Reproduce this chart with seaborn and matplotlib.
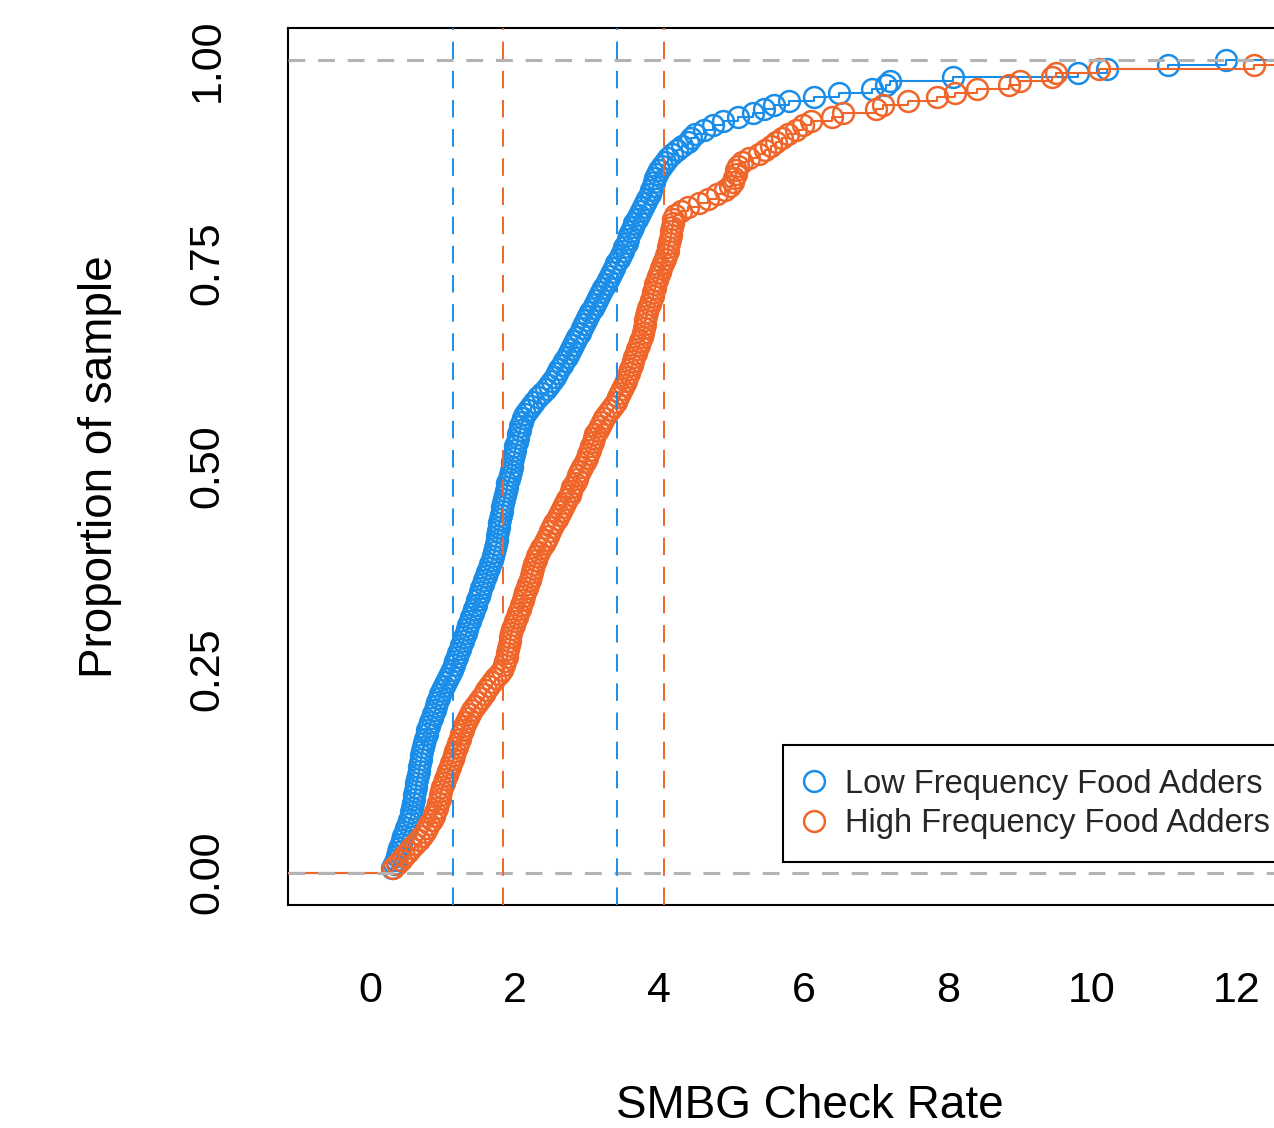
import numpy as np
import pandas as pd
import matplotlib
matplotlib.use("Agg")
import matplotlib.pyplot as plt
from matplotlib.lines import Line2D
import seaborn as sns

# SMBG check rates (sorted, 200 subjects per group)
low_rate = [
    0.30, 0.33, 0.35, 0.37, 0.38, 0.40, 0.42, 0.44, 0.46, 0.48,
    0.50, 0.52, 0.54, 0.56, 0.57, 0.58, 0.59, 0.60, 0.61, 0.62,
    0.63, 0.64, 0.65, 0.66, 0.67, 0.68, 0.69, 0.70, 0.70, 0.71,
    0.73, 0.75, 0.76, 0.78, 0.79, 0.81, 0.83, 0.85, 0.87, 0.89,
    0.91, 0.93, 0.95, 0.97, 0.99, 1.02, 1.05, 1.08, 1.10, 1.13,
    1.16, 1.18, 1.20, 1.22, 1.24, 1.26, 1.28, 1.30, 1.32, 1.34,
    1.36, 1.38, 1.40, 1.42, 1.44, 1.46, 1.48, 1.50, 1.52, 1.54,
    1.56, 1.58, 1.60, 1.62, 1.64, 1.66, 1.68, 1.70, 1.72, 1.73,
    1.74, 1.75, 1.76, 1.77, 1.78, 1.79, 1.80, 1.81, 1.82, 1.83,
    1.84, 1.85, 1.86, 1.88, 1.89, 1.90, 1.92, 1.93, 1.95, 1.96,
    1.97, 1.98, 1.99, 2.00, 2.01, 2.03, 2.04, 2.05, 2.07, 2.08,
    2.10, 2.12, 2.15, 2.18, 2.22, 2.27, 2.33, 2.38, 2.44, 2.48,
    2.52, 2.56, 2.59, 2.62, 2.66, 2.69, 2.72, 2.75, 2.78, 2.81,
    2.84, 2.87, 2.90, 2.93, 2.96, 2.99, 3.02, 3.05, 3.08, 3.11,
    3.14, 3.17, 3.20, 3.23, 3.26, 3.29, 3.32, 3.35, 3.38, 3.41,
    3.44, 3.47, 3.50, 3.52, 3.55, 3.57, 3.59, 3.61, 3.64, 3.66,
    3.69, 3.72, 3.75, 3.78, 3.81, 3.84, 3.87, 3.89, 3.91, 3.93,
    3.95, 3.97, 4.00, 4.04, 4.08, 4.13, 4.18, 4.25, 4.32, 4.40,
    4.45, 4.50, 4.62, 4.75, 4.88, 5.10, 5.30, 5.45, 5.60, 5.80,
    6.15, 6.50, 6.95, 7.15, 7.20, 8.07, 9.80, 10.20, 11.05, 11.85,
]
high_rate = [
    0.32, 0.37, 0.42, 0.47, 0.52, 0.57, 0.62, 0.67, 0.72, 0.76,
    0.79, 0.82, 0.85, 0.88, 0.90, 0.92, 0.94, 0.96, 0.97, 0.98,
    1.00, 1.02, 1.04, 1.06, 1.08, 1.10, 1.12, 1.14, 1.16, 1.18,
    1.20, 1.22, 1.24, 1.26, 1.28, 1.30, 1.32, 1.35, 1.38, 1.41,
    1.45, 1.49, 1.53, 1.57, 1.61, 1.65, 1.69, 1.73, 1.78, 1.82,
    1.85, 1.87, 1.89, 1.90, 1.91, 1.92, 1.93, 1.94, 1.95, 1.97,
    1.99, 2.01, 2.03, 2.05, 2.07, 2.09, 2.11, 2.13, 2.15, 2.17,
    2.19, 2.21, 2.23, 2.24, 2.25, 2.27, 2.29, 2.31, 2.34, 2.37,
    2.40, 2.43, 2.46, 2.49, 2.52, 2.55, 2.58, 2.61, 2.64, 2.67,
    2.70, 2.73, 2.76, 2.78, 2.80, 2.83, 2.86, 2.88, 2.91, 2.94,
    2.97, 3.00, 3.02, 3.04, 3.06, 3.08, 3.10, 3.12, 3.15, 3.18,
    3.21, 3.24, 3.28, 3.32, 3.36, 3.40, 3.43, 3.46, 3.49, 3.52,
    3.54, 3.56, 3.58, 3.60, 3.62, 3.64, 3.66, 3.68, 3.70, 3.72,
    3.74, 3.76, 3.78, 3.79, 3.80, 3.81, 3.82, 3.84, 3.85, 3.87,
    3.89, 3.91, 3.92, 3.94, 3.95, 3.97, 3.99, 4.01, 4.03, 4.06,
    4.08, 4.10, 4.12, 4.13, 4.14, 4.15, 4.16, 4.17, 4.18, 4.19,
    4.20, 4.22, 4.30, 4.40, 4.55, 4.68, 4.80, 4.92, 4.98, 5.02,
    5.04, 5.06, 5.07, 5.09, 5.15, 5.25, 5.38, 5.47, 5.55, 5.62,
    5.70, 5.79, 5.90, 6.00, 6.10, 6.40, 6.55, 7.00, 7.10, 7.45,
    7.85, 8.10, 8.40, 8.85, 9.00, 9.45, 9.50, 10.10, 12.25, 13.00,
]

group_names = ["Low Frequency Food Adders", "High Frequency Food Adders"]
group_colors = ["#1A8DE8", "#F0662A"]
x_ticks = [0, 2, 4, 6, 8, 10, 12]
y_ticks = [0.0, 0.25, 0.5, 0.75, 1.0]
y_tick_labels = ["0.00", "0.25", "0.50", "0.75", "1.00"]

df = pd.DataFrame({
    "rate": low_rate + high_rate,
    "group": [group_names[0]] * len(low_rate) + [group_names[1]] * len(high_rate),
})

sns.set_style("white")
plt.rcParams["font.family"] = ["Liberation Sans", "DejaVu Sans"]

fig = plt.figure(figsize=(12.74, 11.28), dpi=100)
# axes box runs past the right edge of the picture, like the cropped original
ax = fig.add_axes([288 / 1274, 223 / 1128, 1043 / 1274, 877 / 1128])
xlim = (-1.14, 13.31)
ylim = (-0.04, 1.04)

# ECDF step lines with open circles (R plot.ecdf look)
for name, color in zip(group_names, group_colors):
    sub = df[df["group"] == name]
    sns.ecdfplot(data=sub, x="rate", ax=ax, color=color, lw=1.5,
                 marker="o", ms=15, mfc="none", mew=1.8, zorder=3)
    ax.hlines(0, xlim[0], sub["rate"].min(), color=color, lw=1.5, zorder=3)
    ax.hlines(1, sub["rate"].max(), xlim[1], color=color, lw=1.5, zorder=3)

# reference lines at 0 and 1
for h in [0, 1]:
    ax.axhline(h, color="#B3B3B3", lw=2.2, ls=(0, (5.5, 4.2)), zorder=3.5)

# quartiles per group
for name, color in zip(group_names, group_colors):
    q1, q3 = np.percentile(df.loc[df["group"] == name, "rate"], [25, 75])
    for q in [q1, q3]:
        ax.axvline(q, color=color, lw=1.4, ls=(0, (9, 6)), zorder=4)

ax.set_xlim(xlim)
ax.set_ylim(ylim)
ax.set_xticks(x_ticks)
ax.set_yticks(y_ticks, y_tick_labels)
ax.tick_params(direction="out", length=21.5, width=1.5, color="black",
               labelsize=31, labelcolor="black")
ax.tick_params(axis="x", pad=26)
ax.tick_params(axis="y", pad=22, labelrotation=90)
for lab in ax.get_yticklabels():
    lab.set_va("center")

for s in ax.spines.values():
    s.set_visible(True)
    s.set_color("black")
    s.set_linewidth(1.5)

ax.set_xlabel("SMBG Check Rate", fontsize=33, color="black")
ax.xaxis.label.set_va("baseline")
ax.xaxis.set_label_coords(0.5, (905 - 1118) / 877)
ax.set_ylabel("Proportion of sample", fontsize=33, color="black")
ax.yaxis.label.set_va("baseline")
ax.yaxis.set_label_coords((112 - 288) / 1043, 0.5)

handles = [Line2D([], [], ls="none", marker="o", ms=15, mfc="none",
                  mew=1.8, color=c) for c in group_colors]
leg = ax.legend(handles, group_names, loc="upper left",
                bbox_to_anchor=(783 / 1274, 1 - 745 / 1128),
                bbox_transform=fig.transFigure, fontsize=23.5,
                frameon=True, fancybox=False, framealpha=1,
                edgecolor="black", borderpad=0.72, handlelength=0.45,
                handletextpad=0.72, labelspacing=0.26, borderaxespad=0)
leg.get_frame().set_linewidth(1.5)

fig.savefig("out.png", dpi=100)
